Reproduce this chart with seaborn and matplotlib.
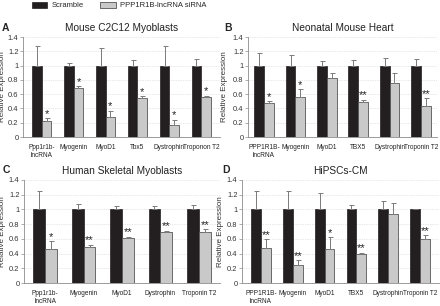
import numpy as np
import pandas as pd
import matplotlib
matplotlib.use('Agg')
import matplotlib.pyplot as plt
import seaborn as sns

sns.set_style('white')
plt.rcParams['font.family'] = ['Liberation Sans', 'DejaVu Sans']

conds = ['Scramble', 'PPP1R1B-lncRNA siRNA']

# A - Mouse C2C12 Myoblasts
genes_a = ['Ppp1r1b-\nlncRNA', 'Myogenin', 'MyoD1', 'Tbx5', 'Dystrophin', 'Troponon T2']
scr_a = [1, 1, 1, 1, 1, 1]
scr_err_a = [0.27, 0.03, 0.24, 0.08, 0.28, 0.09]
si_a = [0.23, 0.69, 0.28, 0.54, 0.17, 0.56]
si_err_a = [0.03, 0.02, 0.09, 0.03, 0.07, 0.02]
stars_a = ['*', '*', '*', '*', '*', '*']

# B - Neonatal Mouse Heart
genes_b = ['PPP1R1B-\nlncRNA', 'Myogenin', 'MyoD1', 'TBX5', 'Dystrophin', 'Troponin T2']
scr_b = [1, 1, 1, 1, 1, 1]
scr_err_b = [0.18, 0.15, 0.07, 0.08, 0.11, 0.09]
si_b = [0.47, 0.56, 0.83, 0.49, 0.76, 0.43]
si_err_b = [0.03, 0.11, 0.07, 0.03, 0.13, 0.11]
stars_b = ['*', '*', '', '**', '', '**']

# C - Human Skeletal Myoblasts
genes_c = ['Ppp1r1b-\nlncRNA', 'Myogenin', 'MyoD1', 'Dystrophin', 'Troponin T2']
scr_c = [1, 1, 1, 1, 1]
scr_err_c = [0.25, 0.07, 0.05, 0.04, 0.06]
si_c = [0.46, 0.49, 0.61, 0.69, 0.69]
si_err_c = [0.11, 0.03, 0.02, 0.02, 0.04]
stars_c = ['*', '**', '**', '**', '**']

# D - HiPSCs-CM
genes_d = ['PPP1R1B-\nlncRNA', 'Myogenin', 'MyoD1', 'TBX5', 'Dystrophin', 'Troponin T2']
scr_d = [1, 1, 1, 1, 1, 1]
scr_err_d = [0.25, 0.25, 0.23, 0.06, 0.11, 0.01]
si_d = [0.48, 0.24, 0.46, 0.40, 0.94, 0.60]
si_err_d = [0.12, 0.07, 0.16, 0.01, 0.15, 0.05]
stars_d = ['**', '**', '*', '**', '', '**']

black = '#231f20'
grey = '#c9c9c9'
axcol = '#8c8c8c'

W, H = 440, 306
fig = plt.figure(figsize=(4.4, 3.06), dpi=100)


def axes_px(x0, x1, ytop, ybot):
    return fig.add_axes([x0 / W, (H - ybot) / H, (x1 - x0) / W, (ybot - ytop) / H])


def draw_panel(ax, genes, scr, scr_err, si, si_err, stars, title, xpad, ylab_x):
    df = pd.DataFrame({
        'gene': genes * 2,
        'cond': [conds[0]] * len(genes) + [conds[1]] * len(genes),
        'val': list(scr) + list(si),
    })
    sns.barplot(data=df, x='gene', y='val', hue='cond', order=genes, hue_order=conds,
                palette=[black, grey], width=0.62, errorbar=None, saturation=1,
                ax=ax, legend=False)
    for bar in ax.containers[0]:
        bar.set_edgecolor(black)
        bar.set_linewidth(0.5)
    for bar in ax.containers[1]:
        bar.set_edgecolor('#555555')
        bar.set_linewidth(0.6)
    for cont, vals, errs in [(ax.containers[0], scr, scr_err), (ax.containers[1], si, si_err)]:
        xs = [b.get_x() + b.get_width() / 2 for b in cont]
        ax.errorbar(xs, vals, yerr=[np.zeros(len(errs)), errs], fmt='none',
                    ecolor='#7a7a7a', elinewidth=0.7, capsize=1.8, capthick=0.7, zorder=3)
    for b, v, e, s in zip(ax.containers[1], si, si_err, stars):
        if s:
            ax.text(b.get_x() + b.get_width() / 2, v + e - 0.01, s, ha='center', va='bottom',
                    fontsize=8, color='#222222')
    ax.set_ylim(0, 1.4)
    ax.set_yticks(np.arange(0, 1.41, 0.2))
    ax.set_yticklabels([f'{t:g}' for t in np.arange(0, 1.41, 0.2)])
    ax.set_xlim(-xpad, len(genes) - 1 + xpad)
    ax.yaxis.grid(True, linestyle=(0, (1, 1.5)), color='#d0d0d0', linewidth=0.5)
    ax.set_axisbelow(True)
    for sp in ['top', 'right']:
        ax.spines[sp].set_visible(False)
    for sp in ['left', 'bottom']:
        ax.spines[sp].set_color(axcol)
        ax.spines[sp].set_linewidth(0.6)
    ax.tick_params(axis='y', left=True, length=2, width=0.5, color=axcol, labelsize=5.4, pad=1.2,
                   labelcolor='#333333')
    ax.tick_params(axis='x', bottom=False, labelsize=4.7, pad=1.5, labelcolor='#222222')
    ax.set_xlabel('')
    ax.set_ylabel('Relative Expression', fontsize=5.8, color='#333333')
    x0 = ax.get_position().x0 * W
    wpx = ax.get_position().width * W
    ax.yaxis.set_label_coords((ylab_x - x0) / wpx, 0.5)
    ax.set_title(title, fontsize=7.3, pad=4, color='#222222')


ax_a = axes_px(23, 220, 37, 137)
ax_b = axes_px(248, 437, 37, 137)
ax_c = axes_px(24, 220, 180, 283)
ax_d = axes_px(242, 439, 180, 283)

draw_panel(ax_a, genes_a, scr_a, scr_err_a, si_a, si_err_a, stars_a, 'Mouse C2C12 Myoblasts', 0.58, 6)
draw_panel(ax_b, genes_b, scr_b, scr_err_b, si_b, si_err_b, stars_b, 'Neonatal Mouse Heart', 0.51, 228)
draw_panel(ax_c, genes_c, scr_c, scr_err_c, si_c, si_err_c, stars_c, 'Human Skeletal Myoblasts', 0.55, 6)
draw_panel(ax_d, genes_d, scr_d, scr_err_d, si_d, si_err_d, stars_d, 'HiPSCs-CM', 0.6, 224)

for letter, lx, ly in [('A', 2, 28), ('B', 224, 28), ('C', 3, 170), ('D', 222, 170)]:
    fig.text(lx / W, 1 - ly / H, letter, fontsize=7.5, fontweight='bold', ha='left', va='center')

handles = [plt.Rectangle((0, 0), 1, 1, facecolor=black, edgecolor=black, lw=0.5),
           plt.Rectangle((0, 0), 1, 1, facecolor=grey, edgecolor='#555555', lw=0.6)]
fig.legend(handles, conds, loc='upper left', bbox_to_anchor=(30 / W, 1.0), ncol=2,
           frameon=False, fontsize=5.5, handlelength=2.0, handleheight=0.9,
           columnspacing=2.2, handletextpad=0.6, borderaxespad=0.1, borderpad=0.1)

fig.savefig('out.png', dpi=100)
